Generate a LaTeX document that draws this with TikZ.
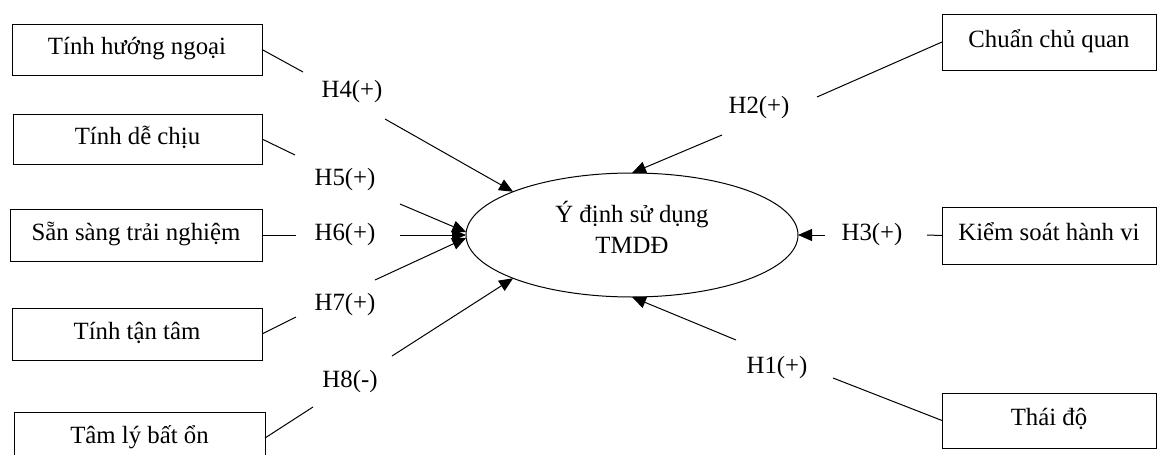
\documentclass[tikz,border=0pt]{standalone}
\usepackage{fontspec}
\setmainfont{Liberation Serif}
\usetikzlibrary{arrows.meta,shapes.geometric}
\begin{document}
\begin{tikzpicture}[x=1pt,y=-1pt,
  every node/.style={font=\fontsize{24.8}{31}\selectfont, inner sep=0pt, outer sep=0pt},
  varbox/.style={draw, line width=1pt, text height=1em, text depth=0em},
  hyp/.style={text height=1em, text depth=0em},
  link/.style={line width=1pt},
  arr/.style={line width=1pt, -{Triangle[length=14pt,width=12pt]}}]
\useasboundingbox (0,0) rectangle (1157,455);
% boxes
\node[varbox, minimum width=250, minimum height=51] (b4) at (137,49.5) {Tính hướng ngoại};
\node[varbox, minimum width=249, minimum height=50] (b5) at (137.5,139) {Tính dễ chịu};
\node[varbox, minimum width=252, minimum height=52] (b6) at (136,235) {Sẵn sàng trải nghiệm};
\node[varbox, minimum width=250, minimum height=52] (b7) at (137,334) {Tính tận tâm};
\node[varbox, minimum width=251, minimum height=52] (b8) at (139.5,438) {Tâm lý bất ổn};
\node[varbox, minimum width=214, minimum height=56] (b2) at (1049,42) {Chuẩn chủ quan};
\node[varbox, minimum width=214, minimum height=57] (b3) at (1049,235.5) {Kiểm soát hành vi};
\node[varbox, minimum width=214, minimum height=55] (b1) at (1049,420.5) {Thái độ};
% centre
\node[draw, ellipse, line width=1pt, minimum width=332, minimum height=124, align=center] (e) at (632,235) {Ý định sử dụng\\TMDĐ\rule[-16pt]{0pt}{0pt}};
% hypothesis labels
\node[hyp] (h4) at (352,92) {H4(+)};
\node[hyp] (h5) at (345,180) {H5(+)};
\node[hyp] (h6) at (345,235) {H6(+)};
\node[hyp] (h7) at (345,305) {H7(+)};
\node[hyp] (h8) at (350,382) {H8(-)};
\node[hyp] (h2) at (759,108) {H2(+)};
\node[hyp] (h3) at (872,235) {H3(+)};
\node[hyp] (h1) at (777,368) {H1(+)};
% free ends
\coordinate (a4) at (303,72);  \coordinate (s4) at (385,119);
\coordinate (a5) at (295,155); \coordinate (s5) at (400,204);
\coordinate (a6) at (296,235); \coordinate (s6) at (400,235);
\coordinate (a7) at (296,317); \coordinate (s7) at (375,280);
\coordinate (a8) at (313,407); \coordinate (s8) at (392,356);
\coordinate (a2) at (817,97);  \coordinate (s2) at (722,135);
\coordinate (a3) at (927,235); \coordinate (s3) at (825,235);
\coordinate (a1) at (833,378); \coordinate (s1) at (736,340);
% connectors
\draw[link] (b4.east) -- (a4);
\draw[link] (b5.east) -- (a5);
\draw[link] (b6.east) -- (a6);
\draw[link] (b7.east) -- (a7);
\draw[link] (b8.east) -- (a8);
\draw[link] (b2.west) -- (a2);
\draw[link] (b3.west) -- (a3);
\draw[link] (b1.west) -- (a1);
\draw[arr] (s4) -- (e.160);
\draw[arr] (s5) -- (e.179);
\draw[arr] (s6) -- (e.west);
\draw[arr] (s7) -- (e.181);
\draw[arr] (s8) -- (e.200);
\draw[arr] (s2) -- (e.north);
\draw[arr] (s3) -- (e.east);
\draw[arr] (s1) -- (e.south);
\end{tikzpicture}
\end{document}
